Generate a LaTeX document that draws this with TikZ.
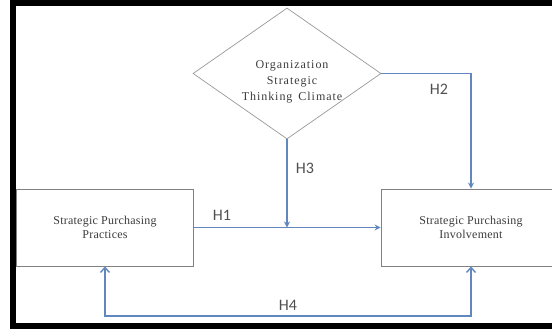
\documentclass[tikz,border=0pt]{standalone}
\usepackage{fontspec}
\setmainfont{Liberation Serif}
\newfontfamily\boxfont[LetterSpace=2]{Liberation Serif}
\newfontfamily\diafont[LetterSpace=8]{Liberation Serif}
\newfontfamily\hfont{Carlito}
\usetikzlibrary{shapes.geometric,arrows.meta}
\definecolor{conn}{RGB}{96,136,190}
\definecolor{edge}{RGB}{128,128,128}
\definecolor{txt}{RGB}{60,60,60}
\tikzset{
  varbox/.style={draw=edge,line width=0.9pt,rectangle,inner sep=0pt,
    minimum height=77pt,align=center,text=txt,
    font=\boxfont\fontsize{12}{13.5}\selectfont},
  climate/.style={draw=edge!80,line width=0.7pt,diamond,inner sep=0pt,aspect=1.435,
    minimum width=188pt,minimum height=131pt},
  conline/.style={draw=conn,line width=1.4pt},
  hlabel/.style={text=txt!90,font=\hfont\fontsize{16}{18}\selectfont,inner sep=0pt},
  tip/.style={-{Stealth[length=6pt,width=6pt]}},
  barbs/.style={{Straight Barb[length=5pt,width=9pt,line width=1.4pt]}-{Straight Barb[length=5pt,width=9pt,line width=1.4pt]}}
}
\begin{document}
\begin{tikzpicture}[x=1pt,y=-1pt]
\useasboundingbox (0,0) rectangle (552,329);
\fill[white] (0,0) rectangle (552,329);
% frame
\draw[line width=5.5pt] (560,3) -- (13,3) -- (13,326) -- (560,326);
% nodes
\node[climate] (dia) at (287,73.5) {};
\node[text=txt,align=center,inner sep=0pt,font=\diafont\fontsize{12}{16}\selectfont] (dtext) at (292,82)
  {Organization\\Strategic\\Thinking \,Climate};
\node[varbox,minimum width=177pt] (lbox) at (105,227.5) {Strategic Purchasing\\Practices};
\node[varbox,minimum width=180pt] (rbox) at (471,227.5) {Strategic Purchasing\\Involvement};
\coordinate (bot) at (0,316);
\coordinate (join) at (dia.south |- lbox.east);
% connectors
\draw[conline,tip] (lbox.east) -- (rbox.west);
\draw[conline,tip] (dia.south) -- (join);
\draw[conline,tip] (dia.east) -| (rbox.north);
\draw[conline,barbs] (lbox.south) -- (lbox.south |- bot) -| (rbox.south);
% labels
\node[hlabel] (h1) at (222,215) {H1};
\node[hlabel] (h2) at (439,89.5) {H2};
\node[hlabel] (h3) at (305,168) {H3};
\node[hlabel] (h4) at (288,305.5) {H4};
\end{tikzpicture}
\end{document}
